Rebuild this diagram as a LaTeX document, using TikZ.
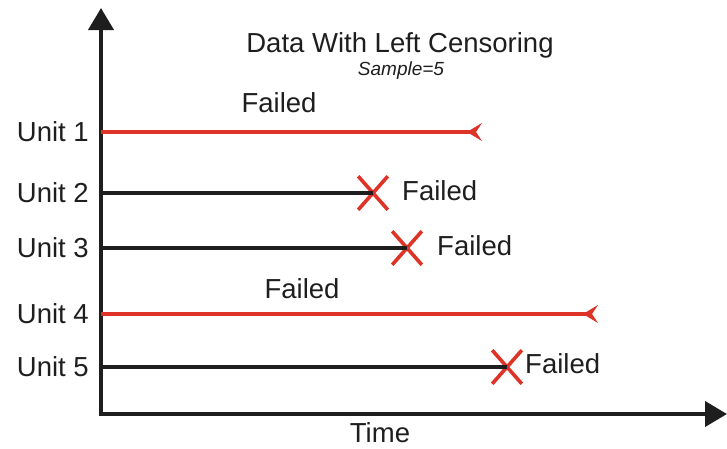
\documentclass[tikz,border=0pt]{standalone}
\usepackage{fontspec}
\setmainfont{Liberation Sans}
\usetikzlibrary{arrows.meta,shapes.misc}
\definecolor{cred}{RGB}{222,52,40}
\definecolor{cblack}{RGB}{30,30,30}
\tikzset{
  lbl/.style={font=\fontsize{27.5}{30}\selectfont, text=cblack, inner sep=0pt},
  axis/.style={draw=cblack, line width=4pt, -{Triangle[length=22pt,width=25pt]}},
  redline/.style={draw=cred, line width=3.2pt, -{Stealth[reversed,length=15pt,width=18pt,inset=6pt]}},
  blkline/.style={draw=cblack, line width=3.2pt},
  failx/.style={cross out, draw=cred, line width=3.6pt, minimum width=26pt, minimum height=30pt, inner sep=0pt}
}
\begin{document}
\begin{tikzpicture}[x=1pt,y=-1pt]
\useasboundingbox (0,0) rectangle (727,448);
% axes
\coordinate (o) at (101,414);
\coordinate (ob) at (101,416);
\coordinate (ol) at (99,414);
\coordinate (ytip) at (101,8);
\coordinate (xtip) at (727,414);
\draw[axis] (ob) -- (ytip);
\draw[axis] (ol) -- (xtip);
% title
\node[lbl] (title) at (400,45) {Data With Left Censoring};
\node[font=\fontsize{19}{20}\selectfont\itshape, text=cblack, inner sep=0pt] (sample) at (401,71) {Sample=5};
\node[lbl] (time) at (380,433) {Time};
% unit labels
\node[lbl, anchor=east] (u1) at (89,132) {Unit 1};
\node[lbl, anchor=east] (u2) at (89,193) {Unit 2};
\node[lbl, anchor=east] (u3) at (89,248) {Unit 3};
\node[lbl, anchor=east] (u4) at (89,314) {Unit 4};
\node[lbl, anchor=east] (u5) at (89,367) {Unit 5};
% start coordinates
\coordinate (s1) at (101,132);
\coordinate (s2) at (101,193);
\coordinate (s3) at (101,248);
\coordinate (s4) at (101,314);
\coordinate (s5) at (101,367);
% unit 1 (red)
\coordinate (e1) at (482,132);
\draw[redline] (s1) -- (e1);
\node[lbl] (f1) at (279,103) {Failed};
% unit 4 (red)
\coordinate (e4) at (598,314);
\draw[redline] (s4) -- (e4);
\node[lbl] (f4) at (302,289) {Failed};
% unit 2
\node[failx] (x2) at (373,193) {};
\draw[blkline] (s2) -- (x2.center);
\node[lbl, anchor=west] (f2) at (402,191) {Failed};
% unit 3
\node[failx] (x3) at (407,248) {};
\draw[blkline] (s3) -- (x3.center);
\node[lbl, anchor=west] (f3) at (437,246) {Failed};
% unit 5
\node[failx] (x5) at (507,367) {};
\draw[blkline] (s5) -- (x5.center);
\node[lbl, anchor=west] (f5) at (525,364) {Failed};
\end{tikzpicture}
\end{document}
